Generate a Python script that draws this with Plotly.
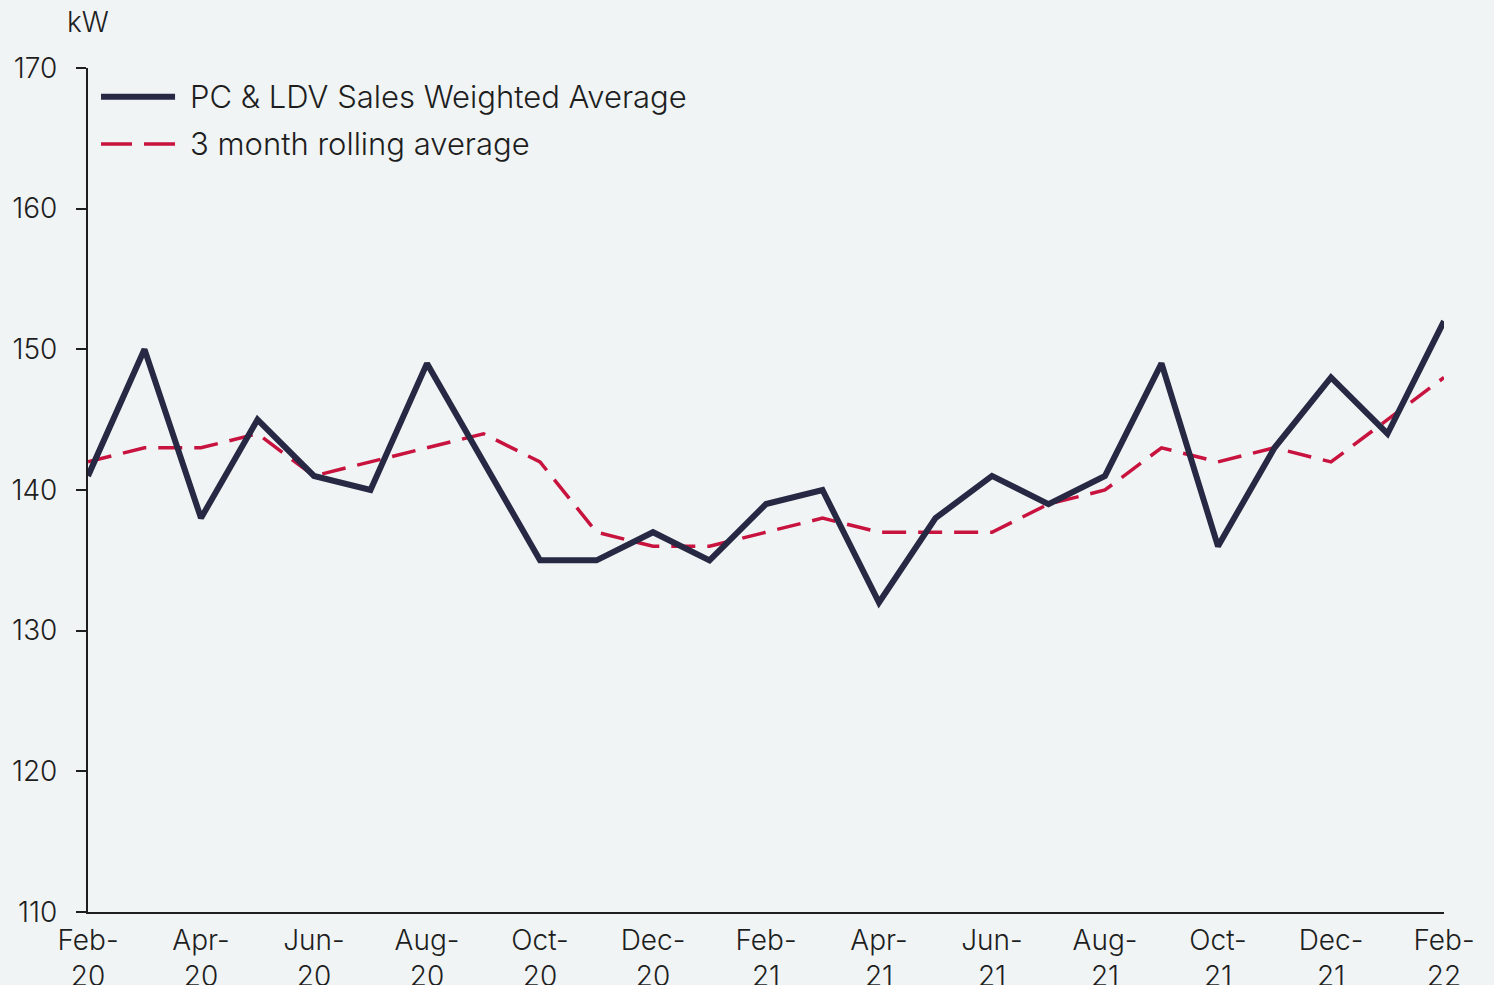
import plotly.graph_objects as go

months = ["Feb-20","Mar-20","Apr-20","May-20","Jun-20","Jul-20","Aug-20","Sep-20","Oct-20","Nov-20","Dec-20","Jan-21",
          "Feb-21","Mar-21","Apr-21","May-21","Jun-21","Jul-21","Aug-21","Sep-21","Oct-21","Nov-21","Dec-21","Jan-22","Feb-22"]
weighted_avg = [141,150,138,145,141,140,149,142,135,135,137,135,139,140,132,138,141,139,141,149,136,143,148,144,152]
rolling_avg = [142,143,143,144,141,142,143,144,142,137,136,136,137,138,137,137,137,139,140,143,142,143,142,145,148]
tick_months = months[::2]
tick_text = [m.replace("-", "-<br>") for m in tick_months]
series_names = ["PC & LDV Sales Weighted Average", "3 month rolling average"]

NAVY = "#272843"
RED = "#C8133F"
BG = "#F0F4F5"
TXT = "#1E1E1E"
FONT = "Inter"

fig = go.Figure()
fig.add_trace(go.Scatter(x=months, y=rolling_avg, mode="lines", name=series_names[1],
                         line=dict(color=RED, width=3.5, dash="24px,12px"), showlegend=False))
fig.add_trace(go.Scatter(x=months, y=weighted_avg, mode="lines", name=series_names[0],
                         line=dict(color=NAVY, width=6), showlegend=False))

# custom legend
fig.add_shape(type="line", xref="paper", yref="paper", x0=0.0096, x1=0.0642, y0=0.966, y1=0.966,
              line=dict(color=NAVY, width=6))
fig.add_shape(type="line", xref="paper", yref="paper", x0=0.0096, x1=0.0642, y0=0.910, y1=0.910,
              line=dict(color=RED, width=3.5, dash="31px,12px"))
fig.add_annotation(xref="paper", yref="paper", x=0.0737, y=0.966, text=series_names[0], showarrow=False,
                   xanchor="left", yanchor="middle", font=dict(size=31, color=TXT, family=FONT, weight=300))
fig.add_annotation(xref="paper", yref="paper", x=0.0737, y=0.910, text=series_names[1], showarrow=False,
                   xanchor="left", yanchor="middle", font=dict(size=31, color=TXT, family=FONT, weight=300))
fig.add_annotation(xref="paper", yref="paper", x=0.0, y=1.0, yshift=46, text="kW", showarrow=False,
                   xanchor="center", yanchor="middle", font=dict(size=28, color=TXT, family=FONT, weight=300))

fig.update_layout(
    width=1494, height=985,
    paper_bgcolor=BG, plot_bgcolor=BG,
    margin=dict(l=88, r=50, t=68, b=73),
    font=dict(family=FONT, size=28, color=TXT, weight=300),
)
fig.update_xaxes(type="category", range=[0, len(months) - 1], tickvals=tick_months, ticktext=tick_text,
                 showline=True, linecolor=TXT, linewidth=2, showgrid=False, zeroline=False, automargin=False,
                 ticks="", ticklabelstandoff=2, tickfont=dict(size=28, weight=300))
fig.update_yaxes(range=[110, 170], tickvals=[110, 120, 130, 140, 150, 160, 170],
                 showline=True, linecolor=TXT, linewidth=2, showgrid=False, zeroline=False, automargin=False,
                 ticks="outside", ticklen=10, tickwidth=2, tickcolor=TXT,
                 ticklabelstandoff=13, tickfont=dict(size=28, weight=300))

fig.write_html("out.html", config={"displayModeBar": False},
               post_script="document.body.style.margin='0';document.body.style.overflow='hidden';")
